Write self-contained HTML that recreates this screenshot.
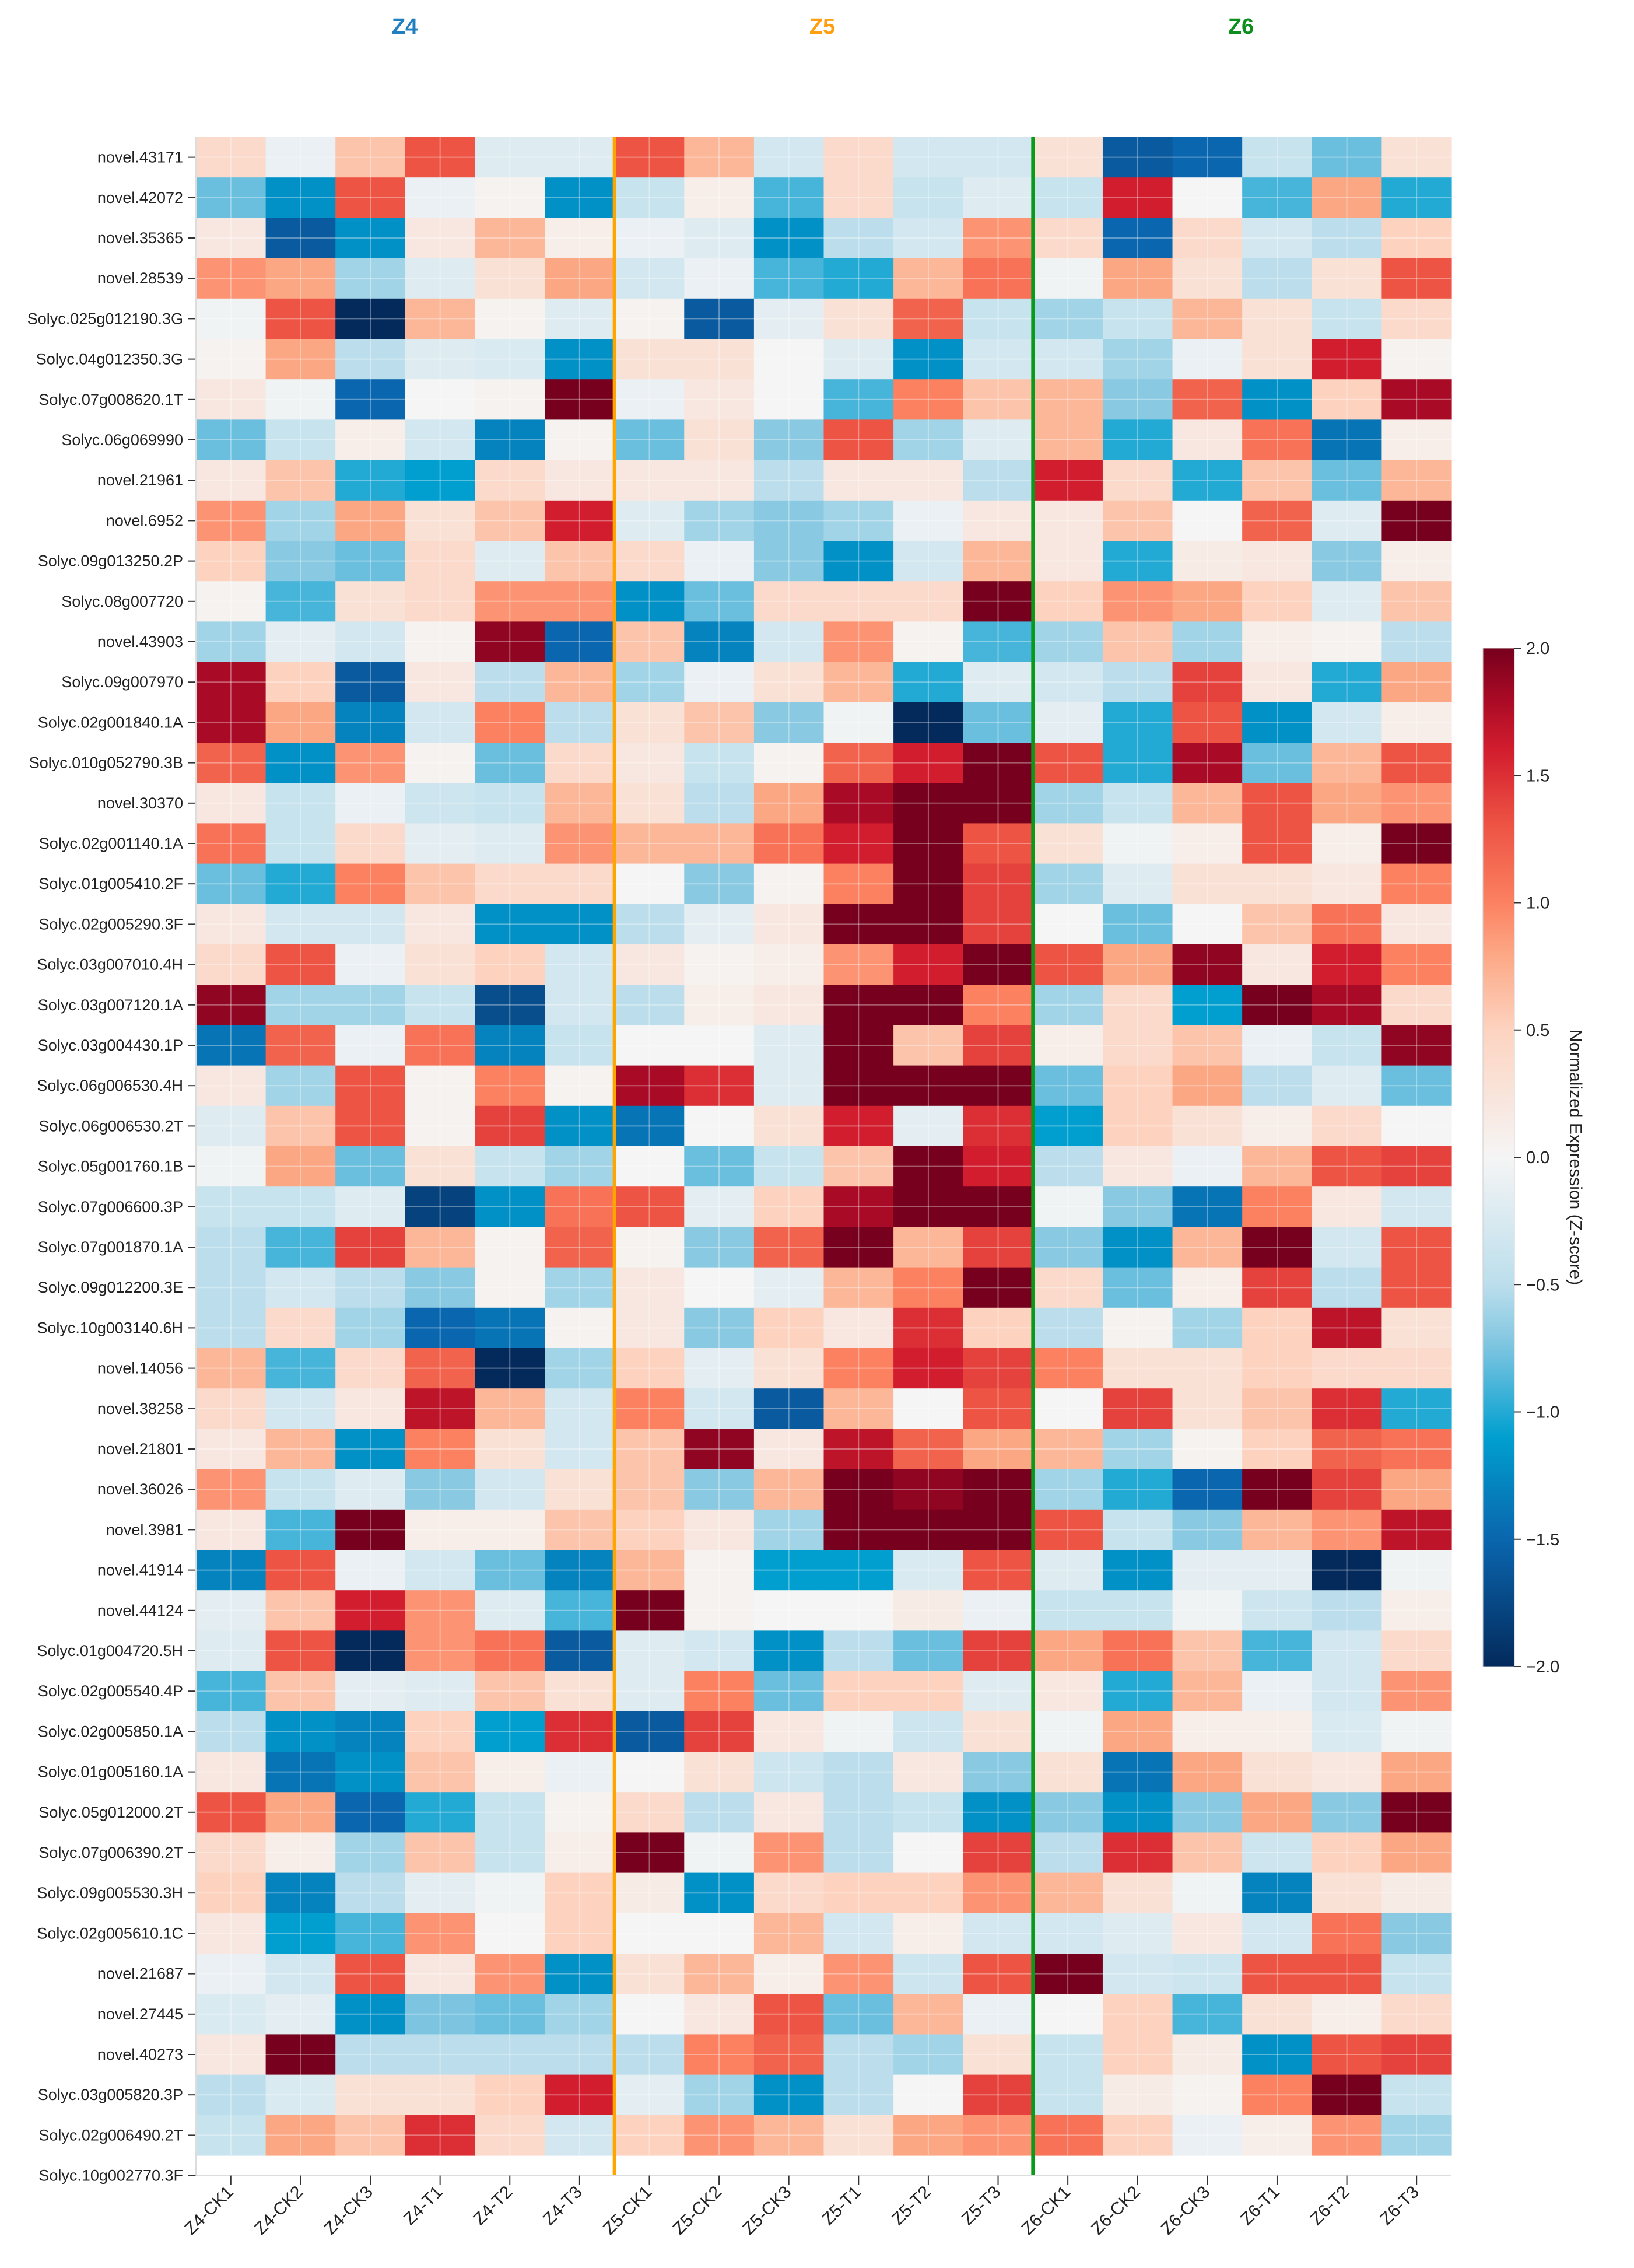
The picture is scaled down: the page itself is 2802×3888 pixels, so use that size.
<!DOCTYPE html>
<html><head><meta charset="utf-8"><title>Heatmap</title>
<style>
html,body{margin:0;padding:0;background:#fff;}
svg{display:block;font-family:"Liberation Sans","DejaVu Sans",sans-serif;}
</style></head>
<body>
<svg id="chart" width="2802" height="3888" viewBox="0 0 2802 3888" xmlns="http://www.w3.org/2000/svg">
<text x="694" y="58" font-size="38" font-weight="bold" fill="#1f7fc0" text-anchor="middle">Z4</text>
<text x="1410" y="58" font-size="38" font-weight="bold" fill="#ff9f10" text-anchor="middle">Z5</text>
<text x="2128" y="58" font-size="38" font-weight="bold" fill="#0c8f1c" text-anchor="middle">Z6</text>
<g id="cells"></g>
<g id="grid"></g>
<g id="seps"></g>
<g id="yaxis"></g>
<g id="xaxis"></g>
<g id="cbar"></g>
<text transform="translate(2692,1984) rotate(90)" font-size="30" fill="#222" text-anchor="middle">Normalized Expression (Z-score)</text>
</svg>
<script>
const columns = ["Z4-CK1","Z4-CK2","Z4-CK3","Z4-T1","Z4-T2","Z4-T3","Z5-CK1","Z5-CK2","Z5-CK3","Z5-T1","Z5-T2","Z5-T3","Z6-CK1","Z6-CK2","Z6-CK3","Z6-T1","Z6-T2","Z6-T3"];
const genes = ["novel.43171","novel.42072","novel.35365","novel.28539","Solyc.025g012190.3G","Solyc.04g012350.3G","Solyc.07g008620.1T","Solyc.06g069990","novel.21961","novel.6952","Solyc.09g013250.2P","Solyc.08g007720","novel.43903","Solyc.09g007970","Solyc.02g001840.1A","Solyc.010g052790.3B","novel.30370","Solyc.02g001140.1A","Solyc.01g005410.2F","Solyc.02g005290.3F","Solyc.03g007010.4H","Solyc.03g007120.1A","Solyc.03g004430.1P","Solyc.06g006530.4H","Solyc.06g006530.2T","Solyc.05g001760.1B","Solyc.07g006600.3P","Solyc.07g001870.1A","Solyc.09g012200.3E","Solyc.10g003140.6H","novel.14056","novel.38258","novel.21801","novel.36026","novel.3981","novel.41914","novel.44124","Solyc.01g004720.5H","Solyc.02g005540.4P","Solyc.02g005850.1A","Solyc.01g005160.1A","Solyc.05g012000.2T","Solyc.07g006390.2T","Solyc.09g005530.3H","Solyc.02g005610.1C","novel.21687","novel.27445","novel.40273","Solyc.03g005820.3P","Solyc.02g006490.2T","Solyc.10g002770.3F"];
const zscores = [
[0.4,-0.1,0.6,1.3,-0.2,-0.2, 1.3,0.7,-0.3,0.4,-0.3,-0.3, 0.3,-1.6,-1.5,-0.4,-0.8,0.3],
[-0.8,-1.2,1.3,-0.1,0.05,-1.2, -0.4,0.1,-0.9,0.4,-0.4,-0.2, -0.4,1.6,0,-0.9,0.8,-1.0],
[0.2,-1.6,-1.2,0.2,0.7,0.1, -0.1,-0.2,-1.2,-0.5,-0.3,0.9, 0.4,-1.5,0.4,-0.3,-0.5,0.5],
[0.9,0.8,-0.6,-0.2,0.3,0.8, -0.3,-0.1,-0.9,-1.0,0.7,1.1, -0.05,0.8,0.3,-0.5,0.3,1.3],
[-0.05,1.3,-2.0,0.7,0.05,-0.2, 0.05,-1.6,-0.15,0.3,1.2,-0.4, -0.6,-0.4,0.7,0.3,-0.4,0.4],
[0.05,0.8,-0.5,-0.2,-0.25,-1.2, 0.3,0.3,0,-0.2,-1.2,-0.3, -0.3,-0.6,-0.1,0.3,1.6,0.05],
[0.2,-0.05,-1.5,0,0.05,2.0, -0.1,0.2,0,-0.9,1.0,0.6, 0.7,-0.7,1.2,-1.2,0.5,1.8],
[-0.8,-0.4,0.1,-0.3,-1.3,0.05, -0.8,0.3,-0.7,1.3,-0.6,-0.2, 0.7,-1.0,0.2,1.1,-1.4,0.1],
[0.2,0.6,-1.0,-1.1,0.4,0.2, 0.2,0.2,-0.5,0.2,0.2,-0.5, 1.6,0.4,-1.0,0.6,-0.8,0.7],
[0.9,-0.6,0.8,0.3,0.6,1.6, -0.2,-0.6,-0.7,-0.6,-0.1,0.2, 0.2,0.6,0,1.2,-0.2,2.0],
[0.5,-0.7,-0.8,0.4,-0.2,0.6, 0.4,-0.1,-0.7,-1.2,-0.3,0.7, 0.2,-1.0,0.15,0.2,-0.7,0.1],
[0.05,-0.9,0.3,0.4,0.9,0.9, -1.2,-0.8,0.4,0.4,0.4,2.0, 0.5,0.9,0.8,0.5,-0.2,0.6],
[-0.6,-0.15,-0.3,0.05,1.9,-1.5, 0.6,-1.3,-0.3,0.9,0.05,-0.9, -0.6,0.6,-0.6,0.1,0.05,-0.5],
[1.8,0.5,-1.6,0.2,-0.5,0.7, -0.6,-0.1,0.3,0.7,-1.0,-0.2, -0.3,-0.5,1.4,0.2,-1.0,0.8],
[1.8,0.8,-1.3,-0.3,1.0,-0.5, 0.3,0.6,-0.7,-0.05,-2.0,-0.8, -0.15,-1.0,1.3,-1.2,-0.3,0.1],
[1.2,-1.2,0.9,0.05,-0.8,0.4, 0.2,-0.4,0.05,1.2,1.6,2.0, 1.3,-1.0,1.8,-0.8,0.7,1.3],
[0.2,-0.4,-0.1,-0.35,-0.4,0.7, 0.3,-0.5,0.8,1.8,2.0,2.0, -0.6,-0.4,0.7,1.3,0.8,0.9],
[1.1,-0.4,0.4,-0.15,-0.2,0.9, 0.7,0.7,1.1,1.6,2.0,1.3, 0.3,-0.05,0.1,1.3,0.1,2.0],
[-0.8,-1.0,1.0,0.6,0.4,0.4, 0,-0.7,0.05,1.0,2.0,1.4, -0.6,-0.2,0.3,0.3,0.2,1.0],
[0.2,-0.3,-0.3,0.2,-1.2,-1.2, -0.5,-0.15,0.2,2.0,2.0,1.4, 0,-0.8,0,0.6,1.1,0.2],
[0.4,1.3,-0.1,0.3,0.5,-0.3, 0.2,0.05,0.1,0.9,1.6,2.0, 1.3,0.8,1.9,0.2,1.6,1.0],
[1.9,-0.6,-0.6,-0.4,-1.7,-0.3, -0.5,0.1,0.2,2.0,2.0,1.0, -0.6,0.4,-1.1,2.0,1.8,0.4],
[-1.4,1.2,-0.1,1.1,-1.3,-0.4, 0,0,-0.2,2.0,0.6,1.4, 0.1,0.4,0.6,-0.1,-0.4,1.9],
[0.2,-0.6,1.3,0.05,1.0,0.05, 1.8,1.5,-0.2,2.0,2.0,2.0, -0.8,0.5,0.8,-0.5,-0.2,-0.8],
[-0.2,0.6,1.3,0.05,1.4,-1.2, -1.4,0,0.3,1.6,-0.15,1.5, -1.1,0.5,0.3,0.1,0.4,0.0],
[-0.05,0.8,-0.8,0.3,-0.4,-0.6, 0,-0.8,-0.4,0.6,2.0,1.6, -0.5,0.2,-0.1,0.7,1.3,1.4],
[-0.4,-0.4,-0.2,-1.8,-1.2,1.1, 1.3,-0.15,0.5,1.8,2.0,2.0, -0.05,-0.7,-1.4,1.0,0.2,-0.3],
[-0.5,-0.9,1.4,0.7,0.05,1.2, 0.05,-0.7,1.2,2.0,0.7,1.4, -0.7,-1.2,0.7,2.0,-0.3,1.3],
[-0.5,-0.3,-0.5,-0.7,0.05,-0.6, 0.2,0,-0.15,0.7,1.0,2.0, 0.4,-0.8,0.1,1.4,-0.5,1.3],
[-0.5,0.4,-0.6,-1.5,-1.4,0.05, 0.2,-0.7,0.5,0.2,1.5,0.5, -0.5,0.05,-0.6,0.5,1.7,0.3],
[0.7,-0.9,0.4,1.2,-2.0,-0.6, 0.5,-0.15,0.3,1.0,1.6,1.4, 1.0,0.3,0.3,0.5,0.4,0.4],
[0.4,-0.3,0.2,1.7,0.7,-0.3, 1.0,-0.3,-1.6,0.7,0.0,1.3, 0.0,1.4,0.3,0.6,1.5,-1.0],
[0.2,0.7,-1.2,1.0,0.3,-0.3, 0.6,1.9,0.2,1.7,1.2,0.8, 0.7,-0.6,0.05,0.5,1.2,1.1],
[0.9,-0.4,-0.2,-0.7,-0.3,0.3, 0.6,-0.7,0.7,2.0,1.9,2.0, -0.6,-1.0,-1.5,2.0,1.4,0.8],
[0.2,-0.9,2.0,0.1,0.1,0.6, 0.5,0.2,-0.6,2.0,2.0,2.0, 1.3,-0.4,-0.7,0.7,0.9,1.7],
[-1.3,1.3,-0.1,-0.3,-0.8,-1.3, 0.7,0.05,-1.1,-1.1,-0.25,1.3, -0.2,-1.2,-0.15,-0.15,-2.0,-0.05],
[-0.15,0.6,1.6,0.9,-0.2,-0.9, 2.0,0.05,0,0,0.15,-0.1, -0.4,-0.4,-0.05,-0.35,-0.5,0.1],
[-0.2,1.3,-2.0,0.9,1.1,-1.6, -0.2,-0.3,-1.2,-0.5,-0.8,1.4, 0.8,1.1,0.6,-0.9,-0.3,0.4],
[-0.9,0.6,-0.15,-0.2,0.6,0.3, -0.2,1.0,-0.8,0.5,0.5,-0.2, 0.2,-1.0,0.7,-0.1,-0.3,0.9],
[-0.5,-1.2,-1.3,0.5,-1.1,1.5, -1.6,1.4,0.2,-0.05,-0.35,0.3, -0.05,0.8,0.1,0.1,-0.25,-0.05],
[0.2,-1.4,-1.2,0.6,0.1,-0.1, 0,0.3,-0.35,-0.5,0.2,-0.7, 0.3,-1.4,0.8,0.3,0.2,0.8],
[1.3,0.8,-1.5,-1.0,-0.4,0.05, 0.4,-0.5,0.2,-0.5,-0.4,-1.2, -0.7,-1.2,-0.7,0.8,-0.7,2.0],
[0.4,0.1,-0.6,0.6,-0.4,0.1, 2.0,-0.05,0.9,-0.5,0,1.4, -0.5,1.5,0.6,-0.35,0.5,0.8],
[0.5,-1.3,-0.5,-0.15,-0.05,0.5, 0.15,-1.2,0.4,0.5,0.5,0.9, 0.7,0.3,-0.05,-1.3,0.3,0.15],
[0.2,-1.1,-0.9,0.9,0,0.5, 0,0,0.7,-0.3,0.1,-0.3, -0.3,-0.2,0.2,-0.3,1.1,-0.7],
[-0.1,-0.3,1.3,0.2,0.9,-1.2, 0.3,0.7,0.1,0.9,-0.35,1.3, 2.0,-0.3,-0.35,1.3,1.3,-0.4],
[-0.25,-0.15,-1.2,-0.75,-0.8,-0.6, 0,0.2,1.3,-0.8,0.7,-0.1, 0,0.5,-0.9,0.3,0.1,0.4],
[0.2,2.0,-0.5,-0.5,-0.5,-0.5, -0.5,1.0,1.2,-0.5,-0.6,0.3, -0.4,0.5,0.15,-1.2,1.3,1.4],
[-0.5,-0.25,0.3,0.3,0.5,1.6, -0.15,-0.6,-1.2,-0.5,0,1.4, -0.4,0.15,0.05,1.0,2.0,-0.4],
[-0.4,0.8,0.6,1.5,0.4,-0.3, 0.5,0.9,0.7,0.3,0.8,0.9, 1.1,0.5,-0.1,0.1,0.9,-0.6]
];
const cbarTicks = [2.0,1.5,1.0,0.5,0.0,-0.5,-1.0,-1.5,-2.0];
const cbarTickLabels = ["2.0","1.5","1.0","0.5","0.0","\u22120.5","\u22121.0","\u22121.5","\u22122.0"];

const NS="http://www.w3.org/2000/svg";
const L=336,R=2489,T=235,RH=69.2;
const CW=(R-L)/columns.length;
const xPos=i=>L+i*CW;
const yPos=i=>T+i*RH;
const stops=[[-2,[4,42,92]],[-1.5,[10,102,174]],[-1.1,[0,159,207]],[-0.75,[124,196,224]],[-0.5,[188,222,236]],[0,[245,245,245]],[0.5,[253,211,192]],[0.8,[252,167,132]],[1.0,[251,129,97]],[1.3,[238,84,68]],[1.6,[210,29,46]],[1.8,[169,10,37]],[2.0,[118,0,29]]];
function color(v){v=Math.max(-2,Math.min(2,v));for(let k=1;k<stops.length;k++){if(v<=stops[k][0]){const a=stops[k-1],b=stops[k];const t=(v-a[0])/(b[0]-a[0]);const c=a[1].map((x,j)=>Math.round(x+(b[1][j]-x)*t));return `rgb(${c[0]},${c[1]},${c[2]})`;}}return "rgb(118,0,29)";}
function mk(tag,attrs,parent){const e=document.createElementNS(NS,tag);for(const k in attrs)e.setAttribute(k,attrs[k]);parent.appendChild(e);return e;}

const cells=document.getElementById('cells');
zscores.forEach((row,r)=>{row.forEach((v,c)=>{
  const e=mk('rect',{x:xPos(c),y:yPos(r),width:CW+0.6,height:RH+0.6,fill:color(v)},cells);
  
  
});});
const grid=document.getElementById('grid');
const H=yPos(zscores.length);
columns.forEach((c,i)=>{const e=mk('line',{x1:xPos(i)+CW/2,x2:xPos(i)+CW/2,y1:T,y2:H,stroke:'#fff','stroke-opacity':0.35,'stroke-width':2},grid);
  
  });
zscores.forEach((row,i)=>{const e=mk('line',{x1:L,x2:R,y1:yPos(i)+RH/2,y2:yPos(i)+RH/2,stroke:'#fff','stroke-opacity':0.35,'stroke-width':2},grid);
  
  });

const axisY=yPos(genes.length-1)+RH/2;
const ax=document.getElementById('xaxis');
let sp=mk('line',{x1:L,x2:R,y1:axisY,y2:axisY,stroke:'#ddd','stroke-width':2},ax);


let sl=mk('line',{x1:L,x2:L,y1:T,y2:axisY,stroke:'#ddd','stroke-width':2},ax);



const seps=document.getElementById('seps');
let s1=mk('line',{x1:xPos(6),x2:xPos(6),y1:T,y2:axisY,stroke:'#ffa500','stroke-width':6},seps);


let s2=mk('line',{x1:xPos(12),x2:xPos(12),y1:T,y2:axisY,stroke:'#0a9a1a','stroke-width':6},seps);



const ya=document.getElementById('yaxis');
genes.forEach((g,i)=>{const y=yPos(i)+RH/2;
  const t=mk('line',{x1:L-14,x2:L,y1:y,y2:y,stroke:'#333','stroke-width':2},ya);
  
  
  const tx=mk('text',{x:L-22,y:y+9,'font-size':27,fill:'#222','text-anchor':'end'},ya);
  tx.textContent=g;
  
  
});
columns.forEach((c,i)=>{const x=xPos(i)+CW/2;
  const t=mk('line',{x1:x,x2:x,y1:axisY,y2:axisY+16,stroke:'#333','stroke-width':2},ax);
  
  
  const tx=mk('text',{transform:`translate(${x+6},${axisY+30}) rotate(-45)`,'font-size':30,fill:'#222','text-anchor':'end'},ax);
  tx.textContent=c;
  
  
});

const cb=document.getElementById('cbar');
const CBX=2543,CBW=54,CBT=1111,CBB=2857;
const cbY=v=>CBT+(2-v)/4*(CBB-CBT);
const defs=mk('defs',{},cb);
const lg=mk('linearGradient',{id:'cbg',x1:0,y1:0,x2:0,y2:1},defs);
for(let k=0;k<=40;k++){const v=2-k*0.1;mk('stop',{offset:(k/40),'stop-color':color(v)},lg);}
const cr=mk('rect',{x:CBX,y:CBT,width:CBW,height:CBB-CBT,fill:'url(#cbg)',stroke:'#ccc','stroke-width':1},cb);


cbarTicks.forEach((v,i)=>{const y=cbY(v);
  const t=mk('line',{x1:CBX+CBW,x2:CBX+CBW+12,y1:y,y2:y,stroke:'#333','stroke-width':2},cb);
  
  
  const tx=mk('text',{x:CBX+CBW+20,y:y+10,'font-size':29,fill:'#222'},cb);
  tx.textContent=cbarTickLabels[i];
  
  
});
</script>
</body></html>
